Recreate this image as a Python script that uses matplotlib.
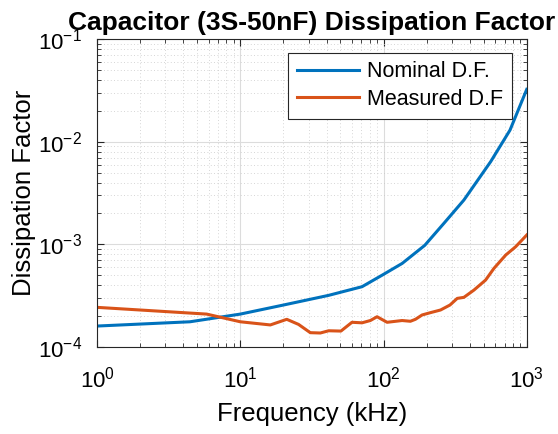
import matplotlib
matplotlib.use('Agg')
import matplotlib.pyplot as plt
import numpy as np

plt.rcParams['font.family'] = ['Liberation Sans', 'DejaVu Sans']
plt.rcParams['mathtext.fontset'] = 'custom'
plt.rcParams['mathtext.rm'] = 'Liberation Sans'

# 标称损耗因数 (kHz, D.F.)
freq_nom = [1, 4.45, 10, 20, 41.4, 70.8, 100, 135, 194, 264, 364, 560, 764, 1000]
df_nom = [1.59e-4, 1.75e-4, 2.08e-4, 2.55e-4, 3.17e-4, 3.85e-4, 5.08e-4, 6.5e-4,
          9.75e-4, 1.6e-3, 2.7e-3, 6.4e-3, 1.30e-2, 3.25e-2]

# 实测损耗因数
freq_meas = [1, 5.82, 10, 16.2, 21.1, 25.5, 30.8, 36.2, 41.4, 50.4, 60.2, 70.8, 80.9,
             90.1, 105.9, 134.8, 154, 167, 186, 213, 250, 291, 327, 364, 428, 516,
             590, 713, 837, 1000]
df_meas = [2.42e-4, 2.08e-4, 1.75e-4, 1.63e-4, 1.85e-4, 1.65e-4, 1.37e-4, 1.36e-4,
           1.43e-4, 1.42e-4, 1.73e-4, 1.71e-4, 1.80e-4, 1.96e-4, 1.73e-4, 1.80e-4,
           1.77e-4, 1.85e-4, 2.04e-4, 2.15e-4, 2.28e-4, 2.55e-4, 2.96e-4, 3.03e-4,
           3.57e-4, 4.47e-4, 5.81e-4, 7.84e-4, 9.46e-4, 1.23e-3]

fig = plt.figure(figsize=(5.58, 4.34), dpi=100)
ax = fig.add_axes([0.174, 0.2012, 0.770, 0.7082])

ax.loglog(freq_nom, df_nom, color='#0072BD', lw=2.2, label='Nominal D.F.')
ax.loglog(freq_meas, df_meas, color='#D95319', lw=2.2, label='Measured D.F')

ax.set_xlim(1, 1000)
ax.set_ylim(1e-4, 1e-1)

# 网格: 主网格实线, 次网格点线
ax.grid(True, which='major', color='#dcdcdc', lw=0.8, ls='-')
ax.grid(True, which='minor', color='#c8c8c8', lw=0.6, ls=(0, (1, 3)))
ax.set_axisbelow(True)

axcol = '#262626'
for s in ax.spines.values():
    s.set_color(axcol)
    s.set_linewidth(0.8)
ax.tick_params(which='both', direction='in', top=True, right=True, colors=axcol,
               labelsize=16, labelcolor='black')
ax.tick_params(which='major', length=5)
ax.tick_params(which='minor', length=3)
ax.tick_params(axis='x', which='major', pad=14)
ax.tick_params(axis='y', which='major', pad=11)

ax.set_xlabel('Frequency (kHz)', fontsize=18.5, labelpad=7)
ax.set_ylabel('Dissipation Factor', fontsize=18.5, labelpad=1)
ax.set_title('Capacitor (3S-50nF) Dissipation Factor', fontsize=19, fontweight='bold',
             pad=7)

leg = ax.legend(loc='upper right', bbox_to_anchor=(0.965, 0.956), fontsize=15.5,
                fancybox=False, framealpha=1, edgecolor=axcol, handlelength=2.9,
                handletextpad=0.35, borderpad=0.4, labelspacing=0.3, borderaxespad=0)
leg.get_frame().set_linewidth(0.8)

fig.savefig('out.png', dpi=100)
